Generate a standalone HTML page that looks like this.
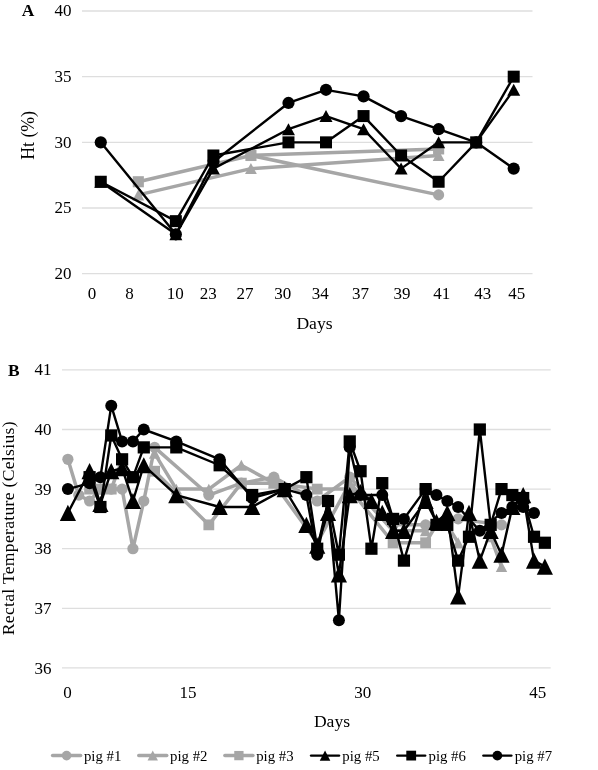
<!DOCTYPE html>
<html><head><meta charset="utf-8"><title>Figure</title>
<style>html,body{margin:0;padding:0;background:#fff}svg{display:block;will-change:transform}text{font-family:"Liberation Serif",serif}</style></head>
<body>
<svg width="598" height="770" viewBox="0 0 598 770">
<rect width="598" height="770" fill="#fff"/>
<line x1="82.0" x2="532.5" y1="11.00" y2="11.00" stroke="#dedede" stroke-width="1.3"/>
<line x1="82.0" x2="532.5" y1="76.67" y2="76.67" stroke="#dedede" stroke-width="1.3"/>
<line x1="82.0" x2="532.5" y1="142.35" y2="142.35" stroke="#dedede" stroke-width="1.3"/>
<line x1="82.0" x2="532.5" y1="208.02" y2="208.02" stroke="#dedede" stroke-width="1.3"/>
<line x1="82.0" x2="532.5" y1="273.70" y2="273.70" stroke="#dedede" stroke-width="1.3"/>
<g font-family="Liberation Serif, serif" font-size="17" fill="#000">
<text x="71.5" y="16.00" text-anchor="end">40</text>
<text x="71.5" y="81.80" text-anchor="end">35</text>
<text x="71.5" y="147.60" text-anchor="end">30</text>
<text x="71.5" y="213.40" text-anchor="end">25</text>
<text x="71.5" y="279.20" text-anchor="end">20</text>
<text x="91.9" y="299.3" text-anchor="middle">0</text>
<text x="129.4" y="299.3" text-anchor="middle">8</text>
<text x="175.3" y="299.3" text-anchor="middle">10</text>
<text x="208.3" y="299.3" text-anchor="middle">23</text>
<text x="245" y="299.3" text-anchor="middle">27</text>
<text x="282.7" y="299.3" text-anchor="middle">30</text>
<text x="320.3" y="299.3" text-anchor="middle">34</text>
<text x="360.4" y="299.3" text-anchor="middle">37</text>
<text x="401.9" y="299.3" text-anchor="middle">39</text>
<text x="441.8" y="299.3" text-anchor="middle">41</text>
<text x="482.8" y="299.3" text-anchor="middle">43</text>
<text x="516.7" y="299.3" text-anchor="middle">45</text>
</g>
<path d="M250.93 155.48L438.63 194.89" fill="none" stroke="#a6a6a6" stroke-width="3.5" stroke-linejoin="round" stroke-linecap="round"/><circle cx="250.93" cy="155.48" r="5.55" fill="#a6a6a6"/><circle cx="438.63" cy="194.89" r="5.55" fill="#a6a6a6"/>
<path d="M138.31 194.89L250.93 168.62L438.63 155.48" fill="none" stroke="#a6a6a6" stroke-width="3.5" stroke-linejoin="round" stroke-linecap="round"/><path d="M138.31 189.39L144.21 200.39L132.41 200.39Z" fill="#a6a6a6"/><path d="M250.93 163.12L256.83 174.12L245.03 174.12Z" fill="#a6a6a6"/><path d="M438.63 149.98L444.53 160.98L432.73 160.98Z" fill="#a6a6a6"/>
<path d="M138.31 181.75L250.93 155.48L438.63 148.92" fill="none" stroke="#a6a6a6" stroke-width="3.5" stroke-linejoin="round" stroke-linecap="round"/><rect x="132.76" y="176.20" width="11.10" height="11.10" fill="#a6a6a6"/><rect x="245.38" y="149.93" width="11.10" height="11.10" fill="#a6a6a6"/><rect x="433.08" y="143.37" width="11.10" height="11.10" fill="#a6a6a6"/>
<path d="M100.77 181.75L175.85 234.29L213.39 168.62L288.47 129.22L326.01 116.08L363.55 129.22L401.09 168.62L438.63 142.35L476.17 142.35L513.71 89.81" fill="none" stroke="#000" stroke-width="2.4" stroke-linejoin="round" stroke-linecap="round"/><path d="M100.77 175.75L107.27 187.75L94.27 187.75Z" fill="#000"/><path d="M175.85 228.29L182.35 240.29L169.35 240.29Z" fill="#000"/><path d="M213.39 162.62L219.89 174.62L206.89 174.62Z" fill="#000"/><path d="M288.47 123.22L294.97 135.22L281.97 135.22Z" fill="#000"/><path d="M326.01 110.08L332.51 122.08L319.51 122.08Z" fill="#000"/><path d="M363.55 123.22L370.05 135.22L357.05 135.22Z" fill="#000"/><path d="M401.09 162.62L407.59 174.62L394.59 174.62Z" fill="#000"/><path d="M438.63 136.35L445.13 148.35L432.13 148.35Z" fill="#000"/><path d="M476.17 136.35L482.67 148.35L469.67 148.35Z" fill="#000"/><path d="M513.71 83.81L520.21 95.81L507.21 95.81Z" fill="#000"/>
<path d="M100.77 181.75L175.85 221.16L213.39 155.48L288.47 142.35L326.01 142.35L363.55 116.08L401.09 155.48L438.63 181.75L476.17 142.35L513.71 76.67" fill="none" stroke="#000" stroke-width="2.4" stroke-linejoin="round" stroke-linecap="round"/><rect x="94.77" y="175.75" width="12.00" height="12.00" fill="#000"/><rect x="169.85" y="215.16" width="12.00" height="12.00" fill="#000"/><rect x="207.39" y="149.48" width="12.00" height="12.00" fill="#000"/><rect x="282.47" y="136.35" width="12.00" height="12.00" fill="#000"/><rect x="320.01" y="136.35" width="12.00" height="12.00" fill="#000"/><rect x="357.55" y="110.08" width="12.00" height="12.00" fill="#000"/><rect x="395.09" y="149.48" width="12.00" height="12.00" fill="#000"/><rect x="432.63" y="175.75" width="12.00" height="12.00" fill="#000"/><rect x="470.17" y="136.35" width="12.00" height="12.00" fill="#000"/><rect x="507.71" y="70.67" width="12.00" height="12.00" fill="#000"/>
<path d="M100.77 142.35L175.85 234.29L213.39 162.05L288.47 102.94L326.01 89.81L363.55 96.38L401.09 116.08L438.63 129.22L476.17 142.35L513.71 168.62" fill="none" stroke="#000" stroke-width="2.4" stroke-linejoin="round" stroke-linecap="round"/><circle cx="100.77" cy="142.35" r="6.10" fill="#000"/><circle cx="175.85" cy="234.29" r="6.10" fill="#000"/><circle cx="213.39" cy="162.05" r="6.10" fill="#000"/><circle cx="288.47" cy="102.94" r="6.10" fill="#000"/><circle cx="326.01" cy="89.81" r="6.10" fill="#000"/><circle cx="363.55" cy="96.38" r="6.10" fill="#000"/><circle cx="401.09" cy="116.08" r="6.10" fill="#000"/><circle cx="438.63" cy="129.22" r="6.10" fill="#000"/><circle cx="476.17" cy="142.35" r="6.10" fill="#000"/><circle cx="513.71" cy="168.62" r="6.10" fill="#000"/>
<line x1="62.0" x2="550.7" y1="369.90" y2="369.90" stroke="#dedede" stroke-width="1.3"/>
<line x1="62.0" x2="550.7" y1="429.50" y2="429.50" stroke="#dedede" stroke-width="1.3"/>
<line x1="62.0" x2="550.7" y1="489.10" y2="489.10" stroke="#dedede" stroke-width="1.3"/>
<line x1="62.0" x2="550.7" y1="548.70" y2="548.70" stroke="#dedede" stroke-width="1.3"/>
<line x1="62.0" x2="550.7" y1="608.30" y2="608.30" stroke="#dedede" stroke-width="1.3"/>
<line x1="62.0" x2="550.7" y1="667.90" y2="667.90" stroke="#dedede" stroke-width="1.3"/>
<g font-family="Liberation Serif, serif" font-size="17" fill="#000">
<text x="51.5" y="374.90" text-anchor="end">41</text>
<text x="51.5" y="434.76" text-anchor="end">40</text>
<text x="51.5" y="494.62" text-anchor="end">39</text>
<text x="51.5" y="554.48" text-anchor="end">38</text>
<text x="51.5" y="614.34" text-anchor="end">37</text>
<text x="51.5" y="674.20" text-anchor="end">36</text>
<text x="67.6" y="698" text-anchor="middle">0</text>
<text x="188" y="698" text-anchor="middle">15</text>
<text x="362.8" y="698" text-anchor="middle">30</text>
<text x="537.7" y="698" text-anchor="middle">45</text>
</g>
<path d="M67.90 459.30L78.74 495.06L89.58 501.02L100.42 489.10L111.26 489.10L122.10 489.10L132.94 548.70L143.78 501.02L154.62 447.38L208.82 495.06L241.34 483.14L273.86 477.18L317.22 501.02L349.74 477.18L393.10 524.86L425.62 524.86L458.14 518.90L501.50 524.86" fill="none" stroke="#a6a6a6" stroke-width="3.5" stroke-linejoin="round" stroke-linecap="round"/><circle cx="67.90" cy="459.30" r="5.60" fill="#a6a6a6"/><circle cx="78.74" cy="495.06" r="5.60" fill="#a6a6a6"/><circle cx="89.58" cy="501.02" r="5.60" fill="#a6a6a6"/><circle cx="100.42" cy="489.10" r="5.60" fill="#a6a6a6"/><circle cx="111.26" cy="489.10" r="5.60" fill="#a6a6a6"/><circle cx="122.10" cy="489.10" r="5.60" fill="#a6a6a6"/><circle cx="132.94" cy="548.70" r="5.60" fill="#a6a6a6"/><circle cx="143.78" cy="501.02" r="5.60" fill="#a6a6a6"/><circle cx="154.62" cy="447.38" r="5.60" fill="#a6a6a6"/><circle cx="208.82" cy="495.06" r="5.60" fill="#a6a6a6"/><circle cx="241.34" cy="483.14" r="5.60" fill="#a6a6a6"/><circle cx="273.86" cy="477.18" r="5.60" fill="#a6a6a6"/><circle cx="317.22" cy="501.02" r="5.60" fill="#a6a6a6"/><circle cx="349.74" cy="477.18" r="5.60" fill="#a6a6a6"/><circle cx="393.10" cy="524.86" r="5.60" fill="#a6a6a6"/><circle cx="425.62" cy="524.86" r="5.60" fill="#a6a6a6"/><circle cx="458.14" cy="518.90" r="5.60" fill="#a6a6a6"/><circle cx="501.50" cy="524.86" r="5.60" fill="#a6a6a6"/>
<path d="M154.62 453.34L176.30 489.10L208.82 489.10L241.34 465.26L273.86 483.14L317.22 542.74L349.74 483.14L393.10 530.82L425.62 530.82L436.46 524.86L447.30 524.86L458.14 542.74" fill="none" stroke="#a6a6a6" stroke-width="3.5" stroke-linejoin="round" stroke-linecap="round"/><path d="M154.62 447.94L160.32 458.74L148.92 458.74Z" fill="#a6a6a6"/><path d="M176.30 483.70L182.00 494.50L170.60 494.50Z" fill="#a6a6a6"/><path d="M208.82 483.70L214.52 494.50L203.12 494.50Z" fill="#a6a6a6"/><path d="M241.34 459.86L247.04 470.66L235.64 470.66Z" fill="#a6a6a6"/><path d="M273.86 477.74L279.56 488.54L268.16 488.54Z" fill="#a6a6a6"/><path d="M317.22 537.34L322.92 548.14L311.52 548.14Z" fill="#a6a6a6"/><path d="M349.74 477.74L355.44 488.54L344.04 488.54Z" fill="#a6a6a6"/><path d="M393.10 525.42L398.80 536.22L387.40 536.22Z" fill="#a6a6a6"/><path d="M425.62 525.42L431.32 536.22L419.92 536.22Z" fill="#a6a6a6"/><path d="M436.46 519.46L442.16 530.26L430.76 530.26Z" fill="#a6a6a6"/><path d="M447.30 519.46L453.00 530.26L441.60 530.26Z" fill="#a6a6a6"/><path d="M458.14 537.34L463.84 548.14L452.44 548.14Z" fill="#a6a6a6"/>
<path d="M490.66 536.78L501.50 566.58" fill="none" stroke="#a6a6a6" stroke-width="3.5" stroke-linejoin="round" stroke-linecap="round"/><path d="M490.66 531.38L496.36 542.18L484.96 542.18Z" fill="#a6a6a6"/><path d="M501.50 561.18L507.20 571.98L495.80 571.98Z" fill="#a6a6a6"/>
<path d="M89.58 489.10L100.42 489.10L111.26 489.10L122.10 459.30" fill="none" stroke="#a6a6a6" stroke-width="3.5" stroke-linejoin="round" stroke-linecap="round"/><rect x="84.18" y="483.70" width="10.80" height="10.80" fill="#a6a6a6"/><rect x="95.02" y="483.70" width="10.80" height="10.80" fill="#a6a6a6"/><rect x="105.86" y="483.70" width="10.80" height="10.80" fill="#a6a6a6"/><rect x="116.70" y="453.90" width="10.80" height="10.80" fill="#a6a6a6"/>
<path d="M154.62 471.22L208.82 524.86L241.34 483.14L273.86 483.14L317.22 489.10L349.74 489.10L393.10 542.74L425.62 542.74L436.46 524.86" fill="none" stroke="#a6a6a6" stroke-width="3.5" stroke-linejoin="round" stroke-linecap="round"/><rect x="149.22" y="465.82" width="10.80" height="10.80" fill="#a6a6a6"/><rect x="203.42" y="519.46" width="10.80" height="10.80" fill="#a6a6a6"/><rect x="235.94" y="477.74" width="10.80" height="10.80" fill="#a6a6a6"/><rect x="268.46" y="477.74" width="10.80" height="10.80" fill="#a6a6a6"/><rect x="311.82" y="483.70" width="10.80" height="10.80" fill="#a6a6a6"/><rect x="344.34" y="483.70" width="10.80" height="10.80" fill="#a6a6a6"/><rect x="387.70" y="537.34" width="10.80" height="10.80" fill="#a6a6a6"/><rect x="420.22" y="537.34" width="10.80" height="10.80" fill="#a6a6a6"/><rect x="431.06" y="519.46" width="10.80" height="10.80" fill="#a6a6a6"/>
<path d="M67.90 512.94L89.58 471.22L100.42 504.00L111.26 471.22L122.10 468.24L132.94 501.02L143.78 465.26L176.30 495.06L219.66 506.98L252.18 506.98L284.70 489.10L306.38 524.86L317.22 545.72L328.06 512.94L338.90 574.33L349.74 495.06L360.58 492.08L371.42 501.02L382.26 512.94L393.10 530.82L403.94 530.82L425.62 501.02L436.46 521.88L447.30 512.94L458.14 596.38L468.98 512.94L479.82 560.62L490.66 530.82L501.50 554.66L512.34 506.98L523.18 495.06L534.02 560.62L544.86 566.58" fill="none" stroke="#000" stroke-width="2.4" stroke-linejoin="round" stroke-linecap="round"/><path d="M67.90 504.84L76.00 521.04L59.80 521.04Z" fill="#000"/><path d="M89.58 463.12L97.68 479.32L81.48 479.32Z" fill="#000"/><path d="M100.42 495.90L108.52 512.10L92.32 512.10Z" fill="#000"/><path d="M111.26 463.12L119.36 479.32L103.16 479.32Z" fill="#000"/><path d="M122.10 460.14L130.20 476.34L114.00 476.34Z" fill="#000"/><path d="M132.94 492.92L141.04 509.12L124.84 509.12Z" fill="#000"/><path d="M143.78 457.16L151.88 473.36L135.68 473.36Z" fill="#000"/><path d="M176.30 486.96L184.40 503.16L168.20 503.16Z" fill="#000"/><path d="M219.66 498.88L227.76 515.08L211.56 515.08Z" fill="#000"/><path d="M252.18 498.88L260.28 515.08L244.08 515.08Z" fill="#000"/><path d="M284.70 481.00L292.80 497.20L276.60 497.20Z" fill="#000"/><path d="M306.38 516.76L314.48 532.96L298.28 532.96Z" fill="#000"/><path d="M317.22 537.62L325.32 553.82L309.12 553.82Z" fill="#000"/><path d="M328.06 504.84L336.16 521.04L319.96 521.04Z" fill="#000"/><path d="M338.90 566.23L347.00 582.43L330.80 582.43Z" fill="#000"/><path d="M349.74 486.96L357.84 503.16L341.64 503.16Z" fill="#000"/><path d="M360.58 483.98L368.68 500.18L352.48 500.18Z" fill="#000"/><path d="M371.42 492.92L379.52 509.12L363.32 509.12Z" fill="#000"/><path d="M382.26 504.84L390.36 521.04L374.16 521.04Z" fill="#000"/><path d="M393.10 522.72L401.20 538.92L385.00 538.92Z" fill="#000"/><path d="M403.94 522.72L412.04 538.92L395.84 538.92Z" fill="#000"/><path d="M425.62 492.92L433.72 509.12L417.52 509.12Z" fill="#000"/><path d="M436.46 513.78L444.56 529.98L428.36 529.98Z" fill="#000"/><path d="M447.30 504.84L455.40 521.04L439.20 521.04Z" fill="#000"/><path d="M458.14 588.28L466.24 604.48L450.04 604.48Z" fill="#000"/><path d="M468.98 504.84L477.08 521.04L460.88 521.04Z" fill="#000"/><path d="M479.82 552.52L487.92 568.72L471.72 568.72Z" fill="#000"/><path d="M490.66 522.72L498.76 538.92L482.56 538.92Z" fill="#000"/><path d="M501.50 546.56L509.60 562.76L493.40 562.76Z" fill="#000"/><path d="M512.34 498.88L520.44 515.08L504.24 515.08Z" fill="#000"/><path d="M523.18 486.96L531.28 503.16L515.08 503.16Z" fill="#000"/><path d="M534.02 552.52L542.12 568.72L525.92 568.72Z" fill="#000"/><path d="M544.86 558.48L552.96 574.68L536.76 574.68Z" fill="#000"/>
<path d="M89.58 477.18L100.42 506.98L111.26 435.46L122.10 459.30L132.94 477.18L143.78 447.38L176.30 447.38L219.66 465.26L252.18 495.06L284.70 489.10L306.38 477.18L317.22 548.70L328.06 501.02L338.90 554.66L349.74 441.42L360.58 471.22L371.42 548.70L382.26 483.14L393.10 518.90L403.94 560.62L425.62 489.10L436.46 524.86L447.30 524.86L458.14 560.62L468.98 536.78L479.82 429.50L490.66 524.86L501.50 489.10L512.34 495.06L523.18 498.04L534.02 536.78L544.86 542.74" fill="none" stroke="#000" stroke-width="2.4" stroke-linejoin="round" stroke-linecap="round"/><rect x="83.48" y="471.08" width="12.20" height="12.20" fill="#000"/><rect x="94.32" y="500.88" width="12.20" height="12.20" fill="#000"/><rect x="105.16" y="429.36" width="12.20" height="12.20" fill="#000"/><rect x="116.00" y="453.20" width="12.20" height="12.20" fill="#000"/><rect x="126.84" y="471.08" width="12.20" height="12.20" fill="#000"/><rect x="137.68" y="441.28" width="12.20" height="12.20" fill="#000"/><rect x="170.20" y="441.28" width="12.20" height="12.20" fill="#000"/><rect x="213.56" y="459.16" width="12.20" height="12.20" fill="#000"/><rect x="246.08" y="488.96" width="12.20" height="12.20" fill="#000"/><rect x="278.60" y="483.00" width="12.20" height="12.20" fill="#000"/><rect x="300.28" y="471.08" width="12.20" height="12.20" fill="#000"/><rect x="311.12" y="542.60" width="12.20" height="12.20" fill="#000"/><rect x="321.96" y="494.92" width="12.20" height="12.20" fill="#000"/><rect x="332.80" y="548.56" width="12.20" height="12.20" fill="#000"/><rect x="343.64" y="435.32" width="12.20" height="12.20" fill="#000"/><rect x="354.48" y="465.12" width="12.20" height="12.20" fill="#000"/><rect x="365.32" y="542.60" width="12.20" height="12.20" fill="#000"/><rect x="376.16" y="477.04" width="12.20" height="12.20" fill="#000"/><rect x="387.00" y="512.80" width="12.20" height="12.20" fill="#000"/><rect x="397.84" y="554.52" width="12.20" height="12.20" fill="#000"/><rect x="419.52" y="483.00" width="12.20" height="12.20" fill="#000"/><rect x="430.36" y="518.76" width="12.20" height="12.20" fill="#000"/><rect x="441.20" y="518.76" width="12.20" height="12.20" fill="#000"/><rect x="452.04" y="554.52" width="12.20" height="12.20" fill="#000"/><rect x="462.88" y="530.68" width="12.20" height="12.20" fill="#000"/><rect x="473.72" y="423.40" width="12.20" height="12.20" fill="#000"/><rect x="484.56" y="518.76" width="12.20" height="12.20" fill="#000"/><rect x="495.40" y="483.00" width="12.20" height="12.20" fill="#000"/><rect x="506.24" y="488.96" width="12.20" height="12.20" fill="#000"/><rect x="517.08" y="491.94" width="12.20" height="12.20" fill="#000"/><rect x="527.92" y="530.68" width="12.20" height="12.20" fill="#000"/><rect x="538.76" y="536.64" width="12.20" height="12.20" fill="#000"/>
<path d="M67.90 489.10L89.58 483.14L100.42 477.18L111.26 405.66L122.10 441.42L132.94 441.42L143.78 429.50L176.30 441.42L219.66 459.30L252.18 498.04L284.70 489.10L306.38 495.06L317.22 554.66L328.06 501.02L338.90 620.22L349.74 447.38L360.58 495.06L382.26 495.06L393.10 518.90L403.94 518.90L425.62 489.10L436.46 495.06L447.30 501.02L458.14 506.98L479.82 530.82L501.50 512.94L512.34 506.98L523.18 506.98L534.02 512.94" fill="none" stroke="#000" stroke-width="2.4" stroke-linejoin="round" stroke-linecap="round"/><circle cx="67.90" cy="489.10" r="6.00" fill="#000"/><circle cx="89.58" cy="483.14" r="6.00" fill="#000"/><circle cx="100.42" cy="477.18" r="6.00" fill="#000"/><circle cx="111.26" cy="405.66" r="6.00" fill="#000"/><circle cx="122.10" cy="441.42" r="6.00" fill="#000"/><circle cx="132.94" cy="441.42" r="6.00" fill="#000"/><circle cx="143.78" cy="429.50" r="6.00" fill="#000"/><circle cx="176.30" cy="441.42" r="6.00" fill="#000"/><circle cx="219.66" cy="459.30" r="6.00" fill="#000"/><circle cx="252.18" cy="498.04" r="6.00" fill="#000"/><circle cx="284.70" cy="489.10" r="6.00" fill="#000"/><circle cx="306.38" cy="495.06" r="6.00" fill="#000"/><circle cx="317.22" cy="554.66" r="6.00" fill="#000"/><circle cx="328.06" cy="501.02" r="6.00" fill="#000"/><circle cx="338.90" cy="620.22" r="6.00" fill="#000"/><circle cx="349.74" cy="447.38" r="6.00" fill="#000"/><circle cx="360.58" cy="495.06" r="6.00" fill="#000"/><circle cx="382.26" cy="495.06" r="6.00" fill="#000"/><circle cx="393.10" cy="518.90" r="6.00" fill="#000"/><circle cx="403.94" cy="518.90" r="6.00" fill="#000"/><circle cx="425.62" cy="489.10" r="6.00" fill="#000"/><circle cx="436.46" cy="495.06" r="6.00" fill="#000"/><circle cx="447.30" cy="501.02" r="6.00" fill="#000"/><circle cx="458.14" cy="506.98" r="6.00" fill="#000"/><circle cx="479.82" cy="530.82" r="6.00" fill="#000"/><circle cx="501.50" cy="512.94" r="6.00" fill="#000"/><circle cx="512.34" cy="506.98" r="6.00" fill="#000"/><circle cx="523.18" cy="506.98" r="6.00" fill="#000"/><circle cx="534.02" cy="512.94" r="6.00" fill="#000"/>
<g font-family="Liberation Serif, serif" fill="#000">
<text x="21.8" y="15.8" font-size="17.4" font-weight="bold">A</text>
<text x="8" y="375.6" font-size="17.4" font-weight="bold">B</text>
<text x="314.5" y="328.5" font-size="17.6" text-anchor="middle">Days</text>
<text x="332" y="727" font-size="17.6" text-anchor="middle">Days</text>
<text transform="translate(33.8 135.4) rotate(-90)" font-size="17.8" text-anchor="middle">Ht (%)</text>
<text transform="translate(14.4 528.2) rotate(-90)" font-size="17.6" letter-spacing="0.3" text-anchor="middle">Rectal Temperature (Celsius)</text>
</g>
<g font-family="Liberation Serif, serif" font-size="14.8" fill="#000">
<line x1="52.60" x2="80.60" y1="755.6" y2="755.6" stroke="#a6a6a6" stroke-width="3.5" stroke-linecap="round"/>
<circle cx="66.60" cy="755.60" r="4.80" fill="#a6a6a6"/>
<text x="83.90" y="761.3">pig #1</text>
<line x1="138.75" x2="166.75" y1="755.6" y2="755.6" stroke="#a6a6a6" stroke-width="3.5" stroke-linecap="round"/>
<path d="M152.75 750.60L157.95 760.60L147.55 760.60Z" fill="#a6a6a6"/>
<text x="170.05" y="761.3">pig #2</text>
<line x1="224.90" x2="252.90" y1="755.6" y2="755.6" stroke="#a6a6a6" stroke-width="3.5" stroke-linecap="round"/>
<rect x="234.25" y="750.95" width="9.30" height="9.30" fill="#a6a6a6"/>
<text x="256.20" y="761.3">pig #3</text>
<line x1="311.05" x2="339.05" y1="755.6" y2="755.6" stroke="#000" stroke-width="2.4" stroke-linecap="round"/>
<path d="M325.05 750.45L330.35 760.75L319.75 760.75Z" fill="#000"/>
<text x="342.35" y="761.3">pig #5</text>
<line x1="397.20" x2="425.20" y1="755.6" y2="755.6" stroke="#000" stroke-width="2.4" stroke-linecap="round"/>
<rect x="406.30" y="750.70" width="9.80" height="9.80" fill="#000"/>
<text x="428.50" y="761.3">pig #6</text>
<line x1="483.35" x2="511.35" y1="755.6" y2="755.6" stroke="#000" stroke-width="2.4" stroke-linecap="round"/>
<circle cx="497.35" cy="755.60" r="4.90" fill="#000"/>
<text x="514.65" y="761.3">pig #7</text>
</g>
</svg>
</body></html>
